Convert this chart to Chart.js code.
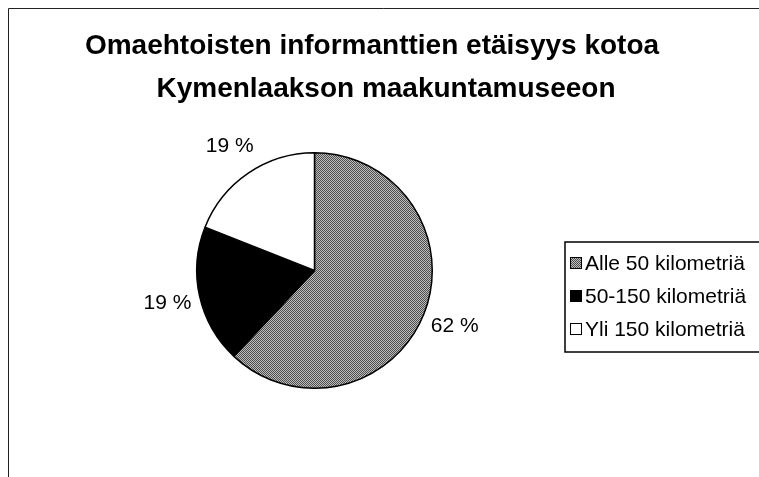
<!DOCTYPE html>
<html>
<head>
<meta charset="utf-8">
<script src="https://cdn.jsdelivr.net/npm/chart.js@4/dist/chart.umd.min.js"></script>
<style>
  html, body { margin: 0; padding: 0; background: #fff; }
  #wrap { width: 759px; height: 477px; position: relative; }
</style>
</head>
<body>
<div id="wrap"><canvas id="chart"></canvas></div>
<script>
// data
const titleLines = ["Omaehtoisten informanttien etäisyys kotoa", "Kymenlaakson maakuntamuseeon"];
const categories = ["Alle 50 kilometriä", "50-150 kilometriä", "Yli 150 kilometriä"];
const shares = [62, 19, 19];

// grey dithered fill like the scanned original
function makeGreyPattern(){
    const c = document.createElement("canvas");
    c.width = 2; c.height = 2;
    const g = c.getContext("2d");
    g.fillStyle = "#bdbdbd";
    g.fillRect(0, 0, 2, 2);
    g.fillStyle = "#4e4e4e";
    g.fillRect(0, 0, 1, 1);
    g.fillRect(1, 1, 1, 1);
    return g.createPattern(c, "repeat");
}
const sliceColors = [makeGreyPattern(), "#000000", "#ffffff"];

const decorPlugin = {
    id: "decor",
    afterDraw(chart){
        const ctx = chart.ctx;
        ctx.save();
        // frame (only left and top edges visible)
        ctx.strokeStyle = "#222";
        ctx.lineWidth = 1;
        ctx.beginPath();
        ctx.moveTo(8.5, 477);
        ctx.lineTo(8.5, 8.5);
        ctx.lineTo(759, 8.5);
        ctx.stroke();

        // title
        ctx.fillStyle = "#000";
        ctx.font = "bold 28px 'Liberation Sans', Arial, sans-serif";
        ctx.textAlign = "center";
        ctx.textBaseline = "middle";
        ctx.fillText(titleLines[0], 372, 46);
        ctx.fillText(titleLines[1], 386, 89);

        // percent labels outside each slice
        ctx.font = "21px 'Liberation Sans', Arial, sans-serif";
        const meta = chart.getDatasetMeta(0);
        meta.data.forEach((arc, i) => {
            const mid = (arc.startAngle + arc.endAngle) / 2;
            const r = arc.outerRadius + 33;
            const x = arc.x + Math.cos(mid) * r;
            const y = arc.y + Math.sin(mid) * r;
            ctx.fillText(shares[i] + " %", x, y);
        });

        // legend box
        const lx = 565, ly = 242;
        ctx.strokeStyle = "#000";
        ctx.lineWidth = 1.5;
        ctx.strokeRect(lx, ly, 220, 110);
        ctx.font = "21px 'Liberation Sans', Arial, sans-serif";
        ctx.textAlign = "left";
        categories.forEach((name, i) => {
            const cy = 263 + i * 33;
            ctx.fillStyle = sliceColors[i];
            ctx.fillRect(lx + 5, cy - 6, 12, 12);
            ctx.strokeStyle = "#000";
            ctx.lineWidth = 1;
            ctx.strokeRect(lx + 5.5, cy - 5.5, 11, 11);
            ctx.fillStyle = "#000";
            ctx.fillText(name, lx + 20, cy + 1);
        });
        ctx.restore();
    }
};

new Chart(document.getElementById("chart"), {
    type: "pie",
    data: {
        labels: categories,
        datasets: [{
            data: shares,
            backgroundColor: sliceColors,
            borderColor: "#000",
            borderWidth: 1.5
        }]
    },
    options: {
        responsive: true,
        maintainAspectRatio: false,
        animation: false,
        layout: { padding: { left: 196, right: 326, top: 152, bottom: 88 } },
        plugins: {
            legend: { display: false },
            title: { display: false },
            tooltip: { enabled: false }
        }
    },
    plugins: [decorPlugin]
});
</script>
</body>
</html>
